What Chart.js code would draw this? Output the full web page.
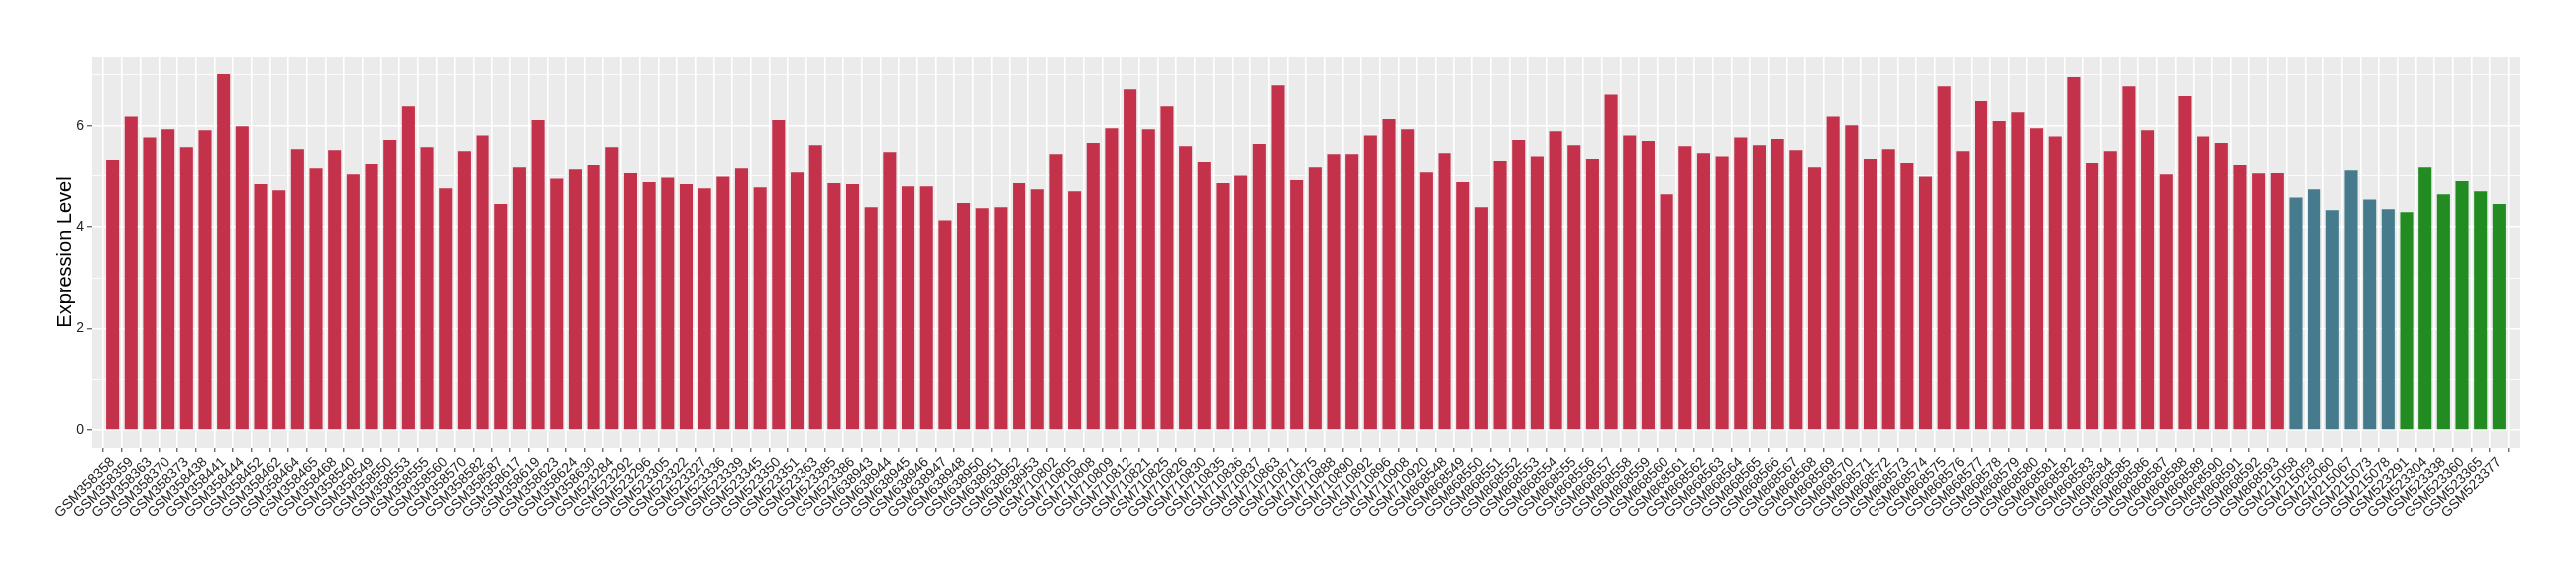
<!DOCTYPE html>
<html>
<head>
<meta charset="utf-8">
<script src="https://cdn.jsdelivr.net/npm/chart.js@4.4.1/dist/chart.umd.min.js"></script>
<style>
  html, body { margin: 0; padding: 0; background: #fff; }
</style>
</head>
<body>
<canvas id="mychart" width="2600" height="580"></canvas>
<script>
// samples in the first (red) group
var redSamples = ['GSM358358','GSM358359','GSM358363','GSM358370','GSM358373','GSM358438','GSM358441','GSM358444',
  'GSM358452','GSM358462','GSM358464','GSM358465','GSM358468','GSM358540','GSM358549','GSM358550','GSM358553',
  'GSM358555','GSM358560','GSM358570','GSM358582','GSM358587','GSM358617','GSM358619','GSM358623','GSM358624',
  'GSM358630','GSM523284','GSM523292','GSM523296','GSM523305','GSM523322','GSM523327','GSM523336','GSM523339',
  'GSM523345','GSM523350','GSM523351','GSM523363','GSM523385','GSM523386','GSM638943','GSM638944','GSM638945',
  'GSM638946','GSM638947','GSM638948','GSM638950','GSM638951','GSM638952','GSM638953','GSM710802','GSM710805',
  'GSM710808','GSM710809','GSM710812','GSM710821','GSM710825','GSM710826','GSM710830','GSM710835','GSM710836',
  'GSM710837','GSM710863','GSM710871','GSM710875','GSM710888','GSM710890','GSM710892','GSM710896','GSM710908',
  'GSM710920','GSM868548','GSM868549','GSM868550','GSM868551','GSM868552','GSM868553','GSM868554','GSM868555',
  'GSM868556','GSM868557','GSM868558','GSM868559','GSM868560','GSM868561','GSM868562','GSM868563','GSM868564',
  'GSM868565','GSM868566','GSM868567','GSM868568','GSM868569','GSM868570','GSM868571','GSM868572','GSM868573',
  'GSM868574','GSM868575','GSM868576','GSM868577','GSM868578','GSM868579','GSM868580','GSM868581','GSM868582',
  'GSM868583','GSM868584','GSM868585','GSM868586','GSM868587','GSM868588','GSM868589','GSM868590','GSM868591',
  'GSM868592','GSM868593'];
var redValues = [5.33,6.18,5.77,5.93,5.58,5.91,7.01,5.99,
  4.84,4.72,5.54,5.17,5.52,5.03,5.25,5.72,6.38,
  5.58,4.76,5.50,5.81,4.45,5.19,6.11,4.95,5.15,
  5.23,5.58,5.07,4.88,4.97,4.84,4.76,4.99,5.17,
  4.78,6.11,5.09,5.62,4.86,4.84,4.39,5.48,4.80,
  4.80,4.13,4.47,4.37,4.39,4.86,4.74,5.44,4.70,
  5.66,5.95,6.71,5.93,6.38,5.60,5.29,4.86,5.01,
  5.64,6.79,4.92,5.19,5.44,5.44,5.81,6.13,5.93,
  5.09,5.46,4.88,4.39,5.31,5.72,5.40,5.89,5.62,
  5.35,6.61,5.81,5.70,4.64,5.60,5.46,5.40,5.77,
  5.62,5.74,5.52,5.19,6.18,6.01,5.35,5.54,5.27,
  4.99,6.77,5.50,6.48,6.09,6.26,5.95,5.79,6.95,
  5.27,5.50,6.77,5.91,5.03,6.58,5.79,5.66,5.23,
  5.05,5.07];

// second (blue) group
var blueSamples = ['GSM215058','GSM215059','GSM215060','GSM215067','GSM215073','GSM215078'];
var blueValues = [4.58,4.74,4.33,5.13,4.54,4.35];

// third (green) group
var greenSamples = ['GSM523291','GSM523304','GSM523338','GSM523360','GSM523365','GSM523377'];
var greenValues = [4.29,5.19,4.64,4.90,4.70,4.45];

var yMajor = [0, 2, 4, 6];
var yMinor = [1, 3, 5, 7];

var allSamples = redSamples.concat(blueSamples, greenSamples);
var allValues = redValues.concat(blueValues, greenValues);
var barColors = [];
redSamples.forEach(function(){ barColors.push('#C3314A'); });
blueSamples.forEach(function(){ barColors.push('#457B8D'); });
greenSamples.forEach(function(){ barColors.push('#228B22'); });

var points = allValues.map(function(v, i){ return {x: i, y: v}; });

// grey panel behind the bars
var panelBg = {
  id: 'panelBg',
  beforeDraw: function(chart) {
    var a = chart.chartArea, c = chart.ctx;
    c.save();
    c.fillStyle = '#EBEBEB';
    c.fillRect(a.left, a.top, a.right - a.left, a.bottom - a.top);
    c.restore();
  }
};

var ctx = document.getElementById('mychart').getContext('2d');
new Chart(ctx, {
  type: 'bar',
  data: {
    datasets: [{
      label: 'Expression',
      data: points,
      backgroundColor: barColors,
      borderWidth: 0,
      barPercentage: 0.7,
      categoryPercentage: 1.0
    }]
  },
  plugins: [panelBg],
  options: {
    responsive: false,
    animation: false,
    devicePixelRatio: 1,
    layout: { padding: { top: 57, right: 57, left: 0, bottom: 0 } },
    plugins: { legend: { display: false }, tooltip: { enabled: false } },
    scales: {
      x: {
        type: 'linear',
        min: -0.6,
        max: allSamples.length - 1 + 0.6,
        afterBuildTicks: function(scale) {
          scale.ticks = allSamples.map(function(_, i){ return {value: i}; });
        },
        afterFit: function(scale) { scale.height = 128; },
        grid: { color: '#FFFFFF', lineWidth: 1.6, tickLength: 4, tickColor: '#333333', tickWidth: 1 },
        border: { display: false },
        ticks: {
          autoSkip: false,
          maxRotation: 45,
          minRotation: 45,
          padding: 2,
          color: '#222222',
          font: { family: 'Liberation Sans', size: 14 },
          callback: function(value) { return allSamples[value]; }
        }
      },
      y: {
        min: -0.35,
        max: 7.36,
        afterBuildTicks: function(scale) {
          scale.ticks = yMajor.concat(yMinor).sort().map(function(v){ return {value: v}; });
        },
        afterFit: function(scale) { scale.width = 93; },
        grid: {
          color: '#FFFFFF',
          lineWidth: function(c) { return yMajor.indexOf(c.tick.value) >= 0 ? 1.6 : 0.8; },
          tickLength: 5,
          tickWidth: 1,
          tickColor: function(c) { return yMajor.indexOf(c.tick.value) >= 0 ? '#333333' : 'rgba(0,0,0,0)'; }
        },
        border: { display: false },
        ticks: {
          padding: 3,
          color: '#222222',
          font: { family: 'Liberation Sans', size: 14 },
          callback: function(value) { return yMajor.indexOf(value) >= 0 ? String(value) : ''; }
        },
        title: {
          display: true,
          text: 'Expression Level',
          color: '#000000',
          font: { family: 'Liberation Sans', size: 20 },
          padding: { top: 54, bottom: 0 }
        }
      }
    }
  }
});
</script>
</body>
</html>
